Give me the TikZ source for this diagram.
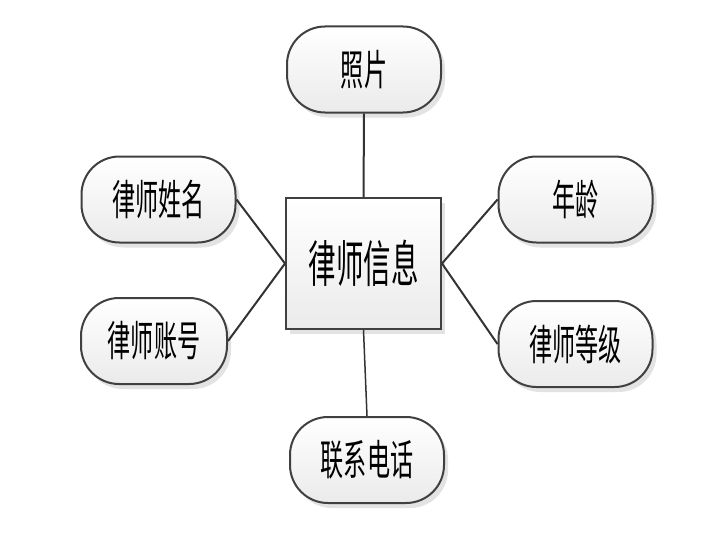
\documentclass[tikz,border=0pt]{standalone}
\usepackage{fontspec}
\newfontfamily\cjk[FakeStretch=0.55]{Noto Sans CJK SC}
\usetikzlibrary{shadows}
\tikzset{
  attr/.style={draw=black!75, line width=2pt, rounded corners=38pt,
    minimum width=154pt, minimum height=86pt, inner sep=0pt,
    top color=white, bottom color=black!8,
    drop shadow={shadow xshift=4pt, shadow yshift=-5pt, fill=black!18, opacity=0.6},
    font=\cjk\fontsize{42}{44}\selectfont},
  ent/.style={draw=black!75, line width=2pt,
    minimum width=155pt, minimum height=131pt, inner sep=0pt,
    top color=white, bottom color=black!8,
    drop shadow={shadow xshift=4pt, shadow yshift=-5pt, fill=black!18, opacity=0.6},
    font=\cjk\fontsize{50}{52}\selectfont},
  link/.style={draw=black!80, line width=2pt}
}
\begin{document}
\begin{tikzpicture}[x=1pt,y=-1pt]
\useasboundingbox[fill=white] (0,0) rectangle (708,543);
\node[ent] (e) at (363.5,263.5) {律师信息};
\node[attr] (photo) at (364,69.5) {照片};
\node[attr] (name) at (158.5,199.5) {律师姓名};
\node[attr, minimum width=146pt] (acct) at (154,341) {律师账号};
\node[attr] (age) at (575.5,199.5) {年龄};
\node[attr] (grade) at (575.5,344) {律师等级};
\node[attr] (tel) at (367,460) {联系电话};
\draw[link] (photo.south) -- (e.north);
\draw[link] (name.east) -- (e.west);
\draw[link] (acct.east) -- (e.west);
\draw[link] (age.west) -- (e.east);
\draw[link] (grade.west) -- (e.east);
\draw[link, line width=1.5pt] (e.south) -- (tel.north);
\end{tikzpicture}
\end{document}
